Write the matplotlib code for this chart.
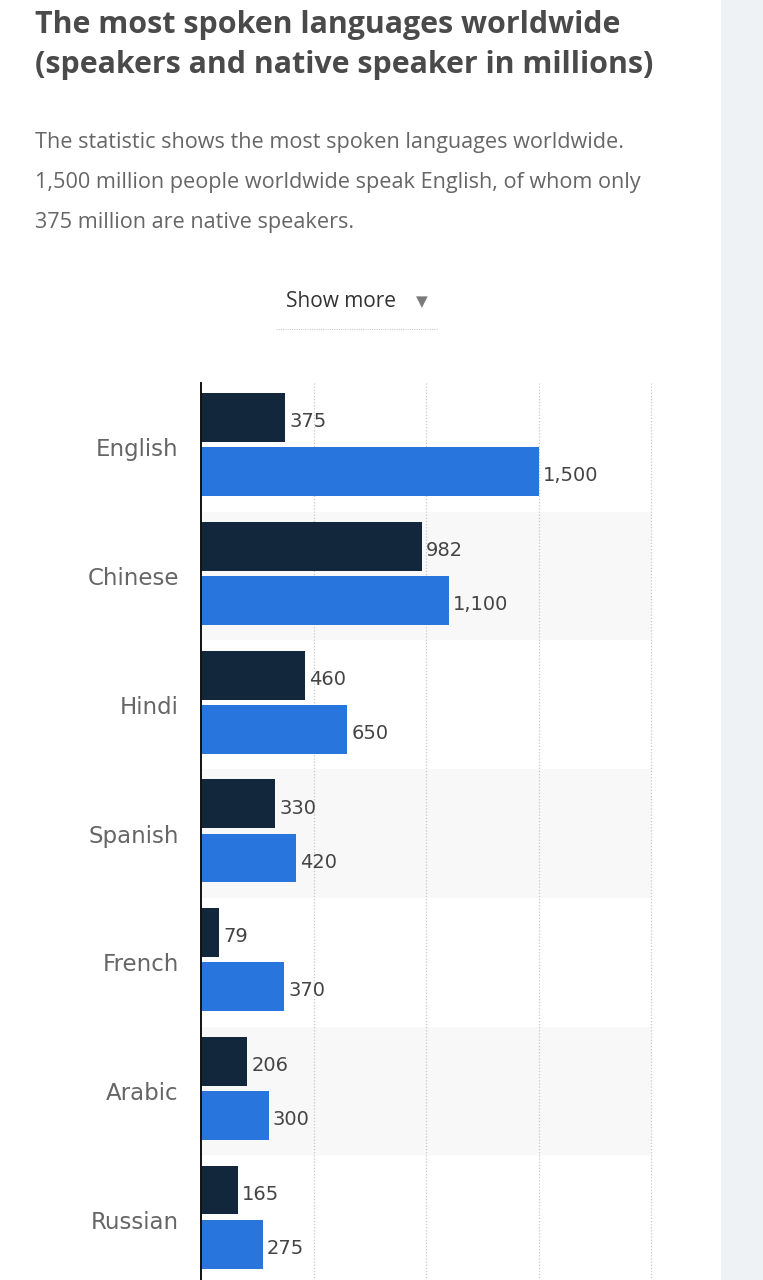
import matplotlib
matplotlib.use("Agg")
import matplotlib.pyplot as plt
from matplotlib.patches import Rectangle
from matplotlib.lines import Line2D

# ---- data ----
languages = ["English", "Chinese", "Hindi", "Spanish", "French", "Arabic", "Russian"]
native_speakers = [375, 982, 460, 330, 79, 206, 165]
total_speakers = [1500, 1100, 650, 420, 370, 300, 275]
x_ticks = [500, 1000, 1500, 2000]

title_lines = ["The most spoken languages worldwide",
               "(speakers and native speaker in millions)"]
subtitle_lines = ["The statistic shows the most spoken languages worldwide.",
                  "1,500 million people worldwide speak English, of whom only",
                  "375 million are native speakers."]

W, H = 763, 1280
DPI = 100
fig = plt.figure(figsize=(W / DPI, H / DPI), dpi=DPI)
fig.patch.set_facecolor("white")

def fx(px):
    return px / W

def fy(py):
    return 1 - py / H

# right side panel
fig.patches.append(Rectangle((fx(721), 0), 1 - fx(721), 1, transform=fig.transFigure,
                             facecolor="#eef2f5", edgecolor="none", zorder=0))

# title
for i, line in enumerate(title_lines):
    fig.text(fx(35), fy(33 + 40 * i), line, family=["Open Sans", "DejaVu Sans"],
             fontweight="bold", fontsize=21.9, color="#4a4a4a", va="baseline", ha="left")

# subtitle
for i, line in enumerate(subtitle_lines):
    fig.text(fx(35), fy(148 + 40 * i), line, family=["Open Sans", "DejaVu Sans"],
             fontsize=15.6, color="#666666", va="baseline", ha="left")

# show more
fig.text(fx(286), fy(307), "Show more", family=["Open Sans", "DejaVu Sans"],
         fontsize=15, color="#333333", va="baseline", ha="left")
fig.text(fx(421.5), fy(306), "\u25BC", family=["DejaVu Sans"],
         fontsize=11, color="#7a7a7a", va="baseline", ha="center")
fig.lines.append(Line2D([fx(276), fx(437)], [fy(329), fy(329)], transform=fig.transFigure,
                        color="#cccccc", linewidth=0.8, linestyle=(0, (1, 1))))

# chart axes
ax_left, ax_right = 201, 651
ax_top, ax_bottom = 383, 1284
ax = fig.add_axes([fx(ax_left), fy(ax_bottom), fx(ax_right - ax_left), (ax_bottom - ax_top) / H])
ax.set_facecolor("none")

n = len(languages)
ypos = list(range(n))

for i in range(1, n, 2):
    ax.axhspan(i - 0.5, i + 0.5, xmin=0, xmax=1, facecolor="#f8f8f8", edgecolor="none", zorder=0)

bar_h = 0.38
y_dark = [y - 0.23 for y in ypos]
y_blue = [y + 0.19 for y in ypos]
ax.barh(y_dark, native_speakers, height=bar_h, color="#12273b", zorder=3)
ax.barh(y_blue, total_speakers, height=bar_h, color="#2876dd", zorder=3)

for yd, v in zip(y_dark, native_speakers):
    ax.annotate(f"{v:,}", (v, yd), xytext=(3, -3), textcoords="offset points",
                va="center", ha="left", fontsize=14, color="#444444", family="DejaVu Sans", zorder=4)
for yb, v in zip(y_blue, total_speakers):
    ax.annotate(f"{v:,}", (v, yb), xytext=(3, -3), textcoords="offset points",
                va="center", ha="left", fontsize=14, color="#444444", family="DejaVu Sans", zorder=4)

ax.set_xlim(0, 2000)
ax.set_ylim(n - 0.5, -0.5)
ax.set_yticks(ypos)
ax.set_yticklabels(languages, family="DejaVu Sans", fontsize=16.5, color="#666666")
ax.tick_params(axis="y", length=0, pad=16)
ax.set_xticks(x_ticks)
ax.tick_params(axis="x", length=0, labelbottom=False)
ax.grid(axis="x", linestyle=(0, (1, 1.5)), color="#c8c8c8", linewidth=0.9, zorder=1)
for gl in ax.get_xgridlines():
    gl.set_clip_on(False)
ax.set_axisbelow(True)
for s in ["top", "right", "bottom"]:
    ax.spines[s].set_visible(False)
ax.spines["left"].set_color("#111111")
ax.spines["left"].set_linewidth(1.4)
ax.spines["left"].set_zorder(5)

fig.savefig("out.png", dpi=DPI, facecolor="white")
